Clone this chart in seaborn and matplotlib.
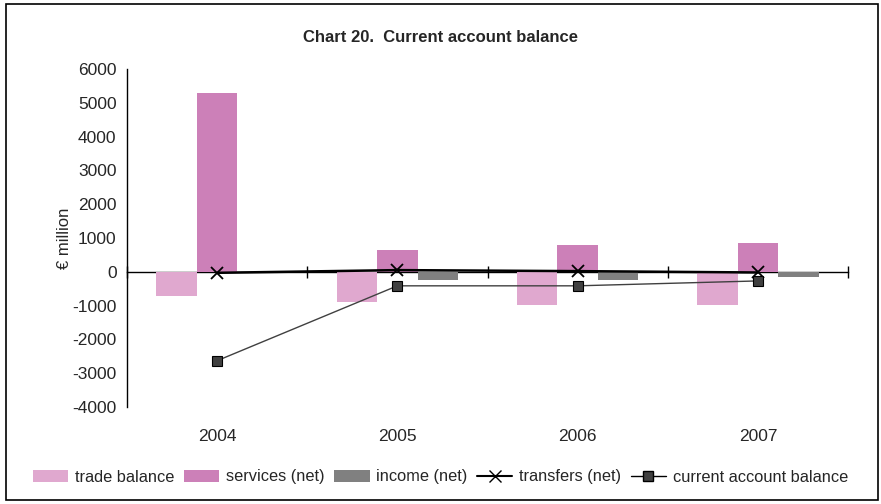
import numpy as np
import pandas as pd
import matplotlib
matplotlib.use("Agg")
import matplotlib.pyplot as plt
import seaborn as sns
from matplotlib.patches import Patch, Rectangle
from matplotlib.lines import Line2D

years = ["2004", "2005", "2006", "2007"]
trade_balance = [-710, -890, -975, -975]
services_net = [5300, 650, 800, 860]
income_net = [0, -240, -240, -150]
transfers_net = [-30, 50, 20, -20]
current_account = [-2630, -415, -415, -270]

bar_names = ["trade balance", "services (net)", "income (net)"]
bar_colors = ["#E0A8CF", "#CC80B8", "#808080"]

sns.set_theme(style="white")
plt.rcParams["font.family"] = ["Liberation Sans", "DejaVu Sans"]
plt.rcParams["axes.unicode_minus"] = False

df = pd.DataFrame({
    "year": years * 3,
    "value": trade_balance + services_net + income_net,
    "series": [n for n in bar_names for _ in years],
})

fig = plt.figure(figsize=(8.81, 5.04), dpi=100)
ax = fig.add_axes([127 / 881, 1 - 407 / 504, (848 - 127) / 881, (407 - 69) / 504])

sns.barplot(data=df, x="year", y="value", hue="series", order=years, hue_order=bar_names,
            palette=bar_colors, width=0.675, saturation=1, legend=False, linewidth=0, ax=ax)
sns.pointplot(x=years, y=transfers_net, order=years, color="black", markers="x",
              errorbar=None, linewidth=1.8, markersize=8, markeredgewidth=1.3, ax=ax)
sns.pointplot(x=years, y=current_account, order=years, color="#404040", markers="s",
              errorbar=None, linewidth=1.0, markersize=7, markeredgecolor="black",
              markeredgewidth=0.8, ax=ax)

ax.set_xlim(-0.5, len(years) - 0.5)
ax.set_ylim(-4000, 6000)
ax.set_yticks(np.arange(-4000, 6001, 1000))
ax.tick_params(axis="y", direction="inout", length=9, width=1, labelsize=12.5, color="black", pad=3)
ax.tick_params(axis="x", length=0, labelsize=12.5, pad=16)
ax.set_xlabel("")
ax.set_ylabel("€ million", fontsize=12, labelpad=0)
for s in ["top", "right", "bottom"]:
    ax.spines[s].set_visible(False)
ax.spines["left"].set_color("black")
ax.spines["left"].set_linewidth(1)

# zero line with category boundary ticks
ax2 = ax.twiny()
ax2.set_xlim(ax.get_xlim())
ax2.spines["bottom"].set_position(("data", 0))
ax2.spines["bottom"].set_color("black")
ax2.spines["bottom"].set_linewidth(1)
for s in ["top", "right", "left"]:
    ax2.spines[s].set_visible(False)
ax2.xaxis.set_ticks_position("bottom")
ax2.set_xticks(np.arange(-0.5, len(years), 1.0))
ax2.tick_params(axis="x", direction="inout", length=9, width=1, color="black", labelbottom=False, labeltop=False)
ax2.set_zorder(ax.get_zorder() - 1)
ax.patch.set_visible(False)

fig.text(0.5, 1 - 38 / 504, "Chart 20.  Current account balance", ha="center", va="center",
         fontsize=12, fontweight="bold")

handles = [Patch(facecolor=c, edgecolor="none") for c in bar_colors]
handles.append(Line2D([], [], color="black", marker="x", linewidth=1.5, markersize=8))
handles.append(Line2D([], [], color="black", marker="s", markerfacecolor="#404040",
                      markeredgecolor="black", linewidth=1.0, markersize=7))
labels = bar_names + ["transfers (net)", "current account balance"]
fig.legend(handles, labels, loc="center", bbox_to_anchor=(0.5, 1 - 477 / 504), ncol=5, frameon=False,
           fontsize=11.8, handlelength=2.15, handletextpad=0.4, columnspacing=0.6)

fig.patches.append(Rectangle((6 / 881, 4 / 504), 872 / 881, 496 / 504, transform=fig.transFigure,
                             fill=False, edgecolor="black", linewidth=1.2))

fig.savefig("out.png", dpi=100)
